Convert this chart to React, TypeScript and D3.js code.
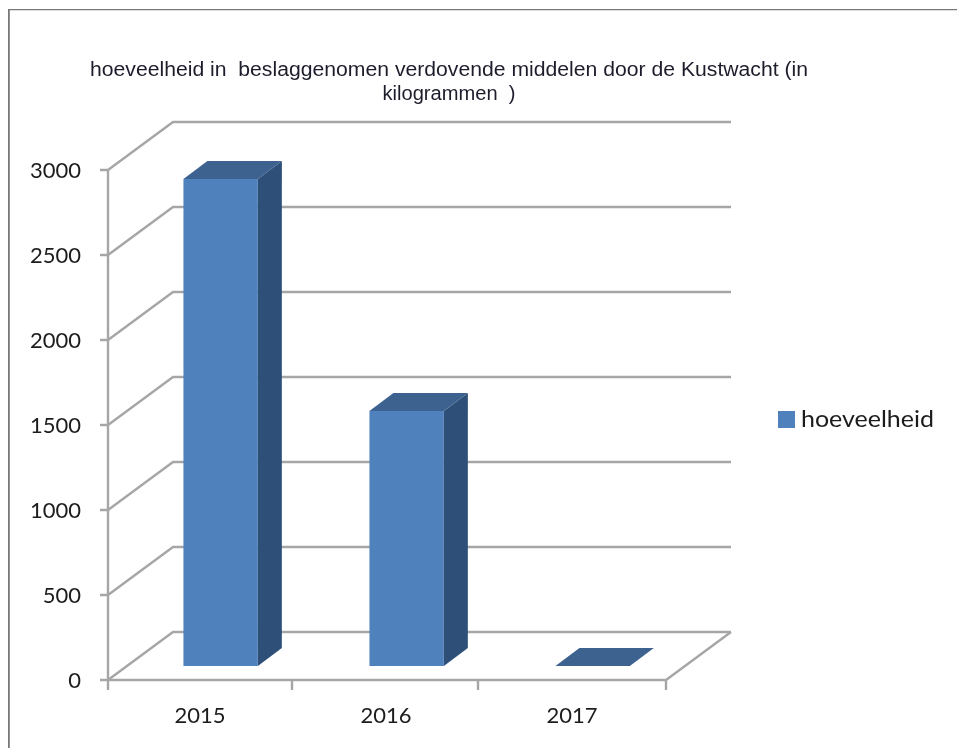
import React from "react";
import * as d3 from "d3";

const categories = ["2015", "2016", "2017"];
const values = [2865, 1500, 0];
const yTicks = [0, 500, 1000, 1500, 2000, 2500, 3000];
const seriesName = "hoeveelheid";
const titleLines = [
  "hoeveelheid in  beslaggenomen verdovende middelen door de Kustwacht (in",
  "kilogrammen  )",
];
const titleWidths = [718, 133];

const W = 957;
const H = 748;
const depthX = 65;
const depthY = -48;
const barDX = 24;
const barDY = -18;
const gray = "#a6a6a6";

export default function App() {
  const y = d3.scaleLinear().domain([0, 3000]).range([680, 170]);
  const x = d3.scaleBand<string>().domain(categories).range([107, 665]);
  const step = x.step();
  const tickX = d3.scaleLinear().domain([0, 1, 2, 3]).range([108, 292, 478, 666]);
  const barOffset = step * 0.411;
  const barW = step * 0.4;
  const barBaseDrop = 14;
  const label = "Lato, 'Open Sans', sans-serif";

  return (
    <svg
      width={W}
      height={H}
      viewBox={`0 0 ${W} ${H}`}
      style={{ position: "absolute", left: 0, top: 0, background: "#fff" }}
    >
      <defs>
        <filter id="soft" x="0" y="0" width="100%" height="100%">
          <feGaussianBlur stdDeviation={0.6} />
        </filter>
      </defs>
      <g filter="url(#soft)">
        <path d={`M8.5 ${H} V9 H${W}`} fill="none" stroke="#787878" strokeWidth={2.6} />

        <g fontFamily="'Liberation Sans', Arial, sans-serif" fontSize={20} fill="#1c1c2c" textAnchor="middle">
          {titleLines.map((t, i) => (
            <text
              key={i}
              x={449}
              y={76 + i * 24}
              textLength={titleWidths[i]}
              lengthAdjust="spacingAndGlyphs"
              style={{ whiteSpace: "pre" }}
            >
              {t}
            </text>
          ))}
        </g>

        <g fill="none" stroke={gray} strokeWidth={2.4}>
          {yTicks.map((t) => (
            <path key={t} d={`M100 ${y(t)} H108 L${108 + depthX} ${y(t) + depthY} H731`} />
          ))}
          <path d={`M108 ${y(3000)} V690`} />
          <path d={`M108 680 H666 L731 ${680 + depthY}`} />
          {categories.map((c, i) => (
            <path key={c} d={`M${tickX(i + 1)} 680 V690`} />
          ))}
        </g>

        {categories.map((c, i) => {
          const left = x(c)! + barOffset;
          const right = left + barW;
          const bottom = y(0) - barBaseDrop;
          const top = y(values[i]) - barBaseDrop;
          return (
            <g key={c}>
              <path
                d={`M${right} ${top} l${barDX} ${barDY} V${bottom + barDY} L${right} ${bottom} Z`}
                fill="#2f5078"
              />
              <rect x={left} y={top} width={barW} height={bottom - top} fill="#4f81bd" />
              <path
                d={`M${left} ${top} l${barDX} ${barDY} H${right + barDX} L${right} ${top} Z`}
                fill="#3c6290"
              />
            </g>
          );
        })}

        <g fontFamily={label} fontSize={22} fill="#1c1c1c">
          {yTicks.map((t) => (
            <text key={t} x={81} y={y(t) + 8} textAnchor="end">
              {t}
            </text>
          ))}
          {categories.map((c) => (
            <text key={c} x={x(c)! + step / 2} y={723} textAnchor="middle">
              {c}
            </text>
          ))}
        </g>

        <rect x={778} y={411} width={17} height={17} fill="#4f81bd" />
        <text x={801} y={427} fontFamily={label} fontSize={23} fill="#1c1c1c" textLength={133} lengthAdjust="spacingAndGlyphs">
          {seriesName}
        </text>
      </g>
    </svg>
  );
}
